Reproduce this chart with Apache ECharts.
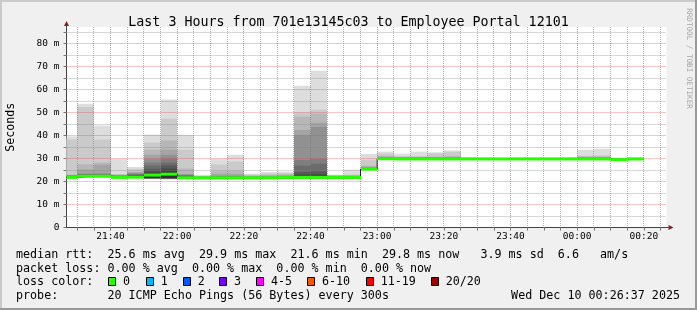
<!DOCTYPE html>
<html><head><meta charset="utf-8">
<script src="https://cdn.jsdelivr.net/npm/echarts@6/dist/echarts.min.js"></script>
<style>html,body{margin:0;padding:0;background:#f0f0f0}#c{width:697px;height:310px}</style>
</head><body><div id="c"></div>
<script>
// ---------------- data ----------------
const rangeStart = '21:26:48';
const rangeEnd = '00:26:48';
const stepEnds = ['21:30','21:35','21:40','21:45','21:50','21:55','22:00','22:05','22:10','22:15','22:20','22:25','22:30','22:35','22:40','22:45','22:50','22:55','23:00','23:05','23:10','23:15','23:20','23:25','23:30','23:35','23:40','23:45','23:50','23:55','00:00','00:05','00:10','00:15','00:20'];
const medians = [21.8,22.3,22.3,21.8,21.9,22.8,23.2,21.6,21.6,21.6,21.6,21.6,21.6,21.8,21.8,21.8,21.8,21.8,25.4,29.9,29.8,29.8,29.8,29.8,29.8,29.8,29.8,29.8,29.8,29.8,29.8,29.8,29.8,29.5,29.8];
// 20 sorted ping RTTs (ms) per step
const pings = [
 [21.2,21.4,21.5,21.5,21.6,21.6,21.7,21.7,21.8,21.8,22.0,22.2,22.3,22.4,22.5,22.6,22.8,23.0,38.3,39.6],
 [21.8,21.9,22.0,22.0,22.1,22.1,22.2,22.2,22.3,22.3,22.5,22.6,22.8,23.0,23.2,23.5,25.2,27.5,52.4,53.8],
 [21.8,21.9,22.0,22.0,22.1,22.1,22.2,22.2,22.3,22.3,22.5,22.6,22.7,22.9,23.2,23.6,27.3,28.2,38.2,44.3],
 [21.5,21.6,21.7,21.7,21.8,21.8,21.9,21.9,22.0,22.0,22.1,22.2,22.3,22.4,22.5,22.6,22.8,23.0,23.2,29.9],
 [21.4,21.5,21.6,21.7,21.8,21.9,22.0,22.0,22.1,22.1,22.4,22.6,22.8,23.0,23.3,23.6,24.0,24.3,25.5,26.3],
 [21.0,21.1,21.2,21.2,21.3,21.3,21.4,21.4,21.5,21.6,23.4,24.3,25.5,26.9,28.3,29.8,31.6,33.8,36.9,40.4],
 [20.9,21.0,21.1,21.2,21.2,21.3,21.3,21.4,21.4,21.5,24.3,25.6,27.0,28.2,30.0,31.6,33.8,37.9,47.3,55.6],
 [21.0,21.1,21.2,21.3,21.3,21.4,21.4,21.5,21.5,21.6,21.8,22.0,22.2,22.5,22.8,23.0,23.3,25.6,33.8,40.3],
 [21.0,21.1,21.2,21.2,21.3,21.3,21.4,21.4,21.5,21.5,21.6,21.7,21.8,21.8,21.9,22.0,22.1,22.3,22.5,22.8],
 [21.0,21.1,21.2,21.2,21.3,21.3,21.4,21.4,21.5,21.5,21.7,21.8,21.9,22.0,22.2,22.5,23.2,24.4,27.4,29.9],
 [21.0,21.1,21.2,21.2,21.3,21.3,21.4,21.4,21.5,21.5,21.7,21.8,21.9,22.0,22.2,22.5,23.2,24.5,28.7,31.6],
 [21.0,21.1,21.2,21.2,21.3,21.3,21.4,21.4,21.5,21.5,21.6,21.7,21.8,21.9,22.0,22.1,22.3,22.6,23.0,23.4],
 [21.0,21.1,21.2,21.2,21.3,21.3,21.4,21.4,21.5,21.5,21.6,21.7,21.8,21.9,22.0,22.2,22.5,22.9,23.5,24.1],
 [21.1,21.2,21.3,21.3,21.4,21.4,21.5,21.5,21.6,21.6,21.8,21.9,22.0,22.1,22.2,22.4,22.7,23.1,23.7,24.3],
 [21.1,21.2,21.3,21.3,21.4,21.4,21.5,21.5,21.6,21.6,22.4,23.0,24.1,26.9,29.4,40.0,42.4,48.3,50.0,61.6],
 [21.1,21.2,21.3,21.3,21.4,21.4,21.5,21.5,21.6,21.6,22.5,23.1,24.4,27.7,29.9,43.7,45.5,49.6,51.2,68.2],
 [21.1,21.2,21.3,21.3,21.4,21.4,21.5,21.5,21.6,21.6,21.7,21.8,21.9,22.0,22.1,22.2,22.4,22.6,22.8,23.0],
 [21.1,21.2,21.3,21.3,21.4,21.4,21.5,21.5,21.6,21.6,21.7,21.8,21.9,22.0,22.1,22.3,22.5,22.7,23.0,25.1],
 [25.0,25.0,25.1,25.1,25.2,25.2,25.3,25.3,25.3,25.4,25.5,25.6,25.7,25.8,25.9,26.1,26.4,26.9,29.5,32.0],
 [29.4,29.5,29.5,29.6,29.6,29.7,29.7,29.8,29.8,29.9,30.0,30.1,30.2,30.3,30.4,30.6,30.8,31.1,32.1,33.0],
 [29.4,29.5,29.5,29.6,29.6,29.7,29.7,29.8,29.8,29.8,29.9,30.0,30.1,30.2,30.3,30.4,30.5,30.7,31.0,32.1],
 [29.4,29.5,29.5,29.6,29.6,29.7,29.7,29.8,29.8,29.8,29.9,30.0,30.1,30.2,30.3,30.4,30.5,30.7,31.1,33.0],
 [29.4,29.5,29.5,29.6,29.6,29.7,29.7,29.8,29.8,29.8,29.9,30.0,30.1,30.2,30.3,30.4,30.6,30.8,32.3,32.7],
 [29.4,29.5,29.5,29.6,29.6,29.7,29.7,29.8,29.8,29.8,29.9,30.0,30.1,30.2,30.3,30.5,30.7,31.0,32.9,33.5],
 [29.4,29.5,29.5,29.6,29.6,29.7,29.7,29.8,29.8,29.8,29.9,29.9,30.0,30.0,30.1,30.1,30.2,30.3,30.3,30.4],
 [29.4,29.5,29.5,29.6,29.6,29.7,29.7,29.7,29.8,29.8,29.8,29.9,29.9,30.0,30.0,30.1,30.1,30.2,30.3,30.4],
 [29.4,29.5,29.5,29.6,29.6,29.7,29.7,29.7,29.8,29.8,29.8,29.9,29.9,30.0,30.0,30.1,30.1,30.2,30.2,30.3],
 [29.4,29.5,29.5,29.6,29.6,29.7,29.7,29.8,29.8,29.8,29.9,29.9,30.0,30.0,30.1,30.1,30.2,30.2,30.3,30.4],
 [29.4,29.5,29.5,29.6,29.6,29.7,29.7,29.7,29.8,29.8,29.8,29.9,29.9,30.0,30.0,30.0,30.1,30.2,30.3,30.4],
 [29.4,29.5,29.5,29.6,29.6,29.7,29.7,29.8,29.8,29.8,29.9,29.9,30.0,30.0,30.1,30.1,30.2,30.2,30.3,30.4],
 [29.4,29.5,29.5,29.6,29.6,29.7,29.7,29.8,29.8,29.8,29.9,29.9,30.0,30.0,30.1,30.1,30.2,30.3,30.3,30.4],
 [29.4,29.5,29.5,29.6,29.6,29.7,29.7,29.8,29.8,29.8,29.9,30.0,30.1,30.2,30.3,30.4,30.6,30.9,31.2,33.8],
 [29.4,29.5,29.5,29.6,29.6,29.7,29.7,29.8,29.8,29.8,29.9,30.0,30.1,30.2,30.3,30.4,30.6,30.9,31.4,34.2],
 [29.1,29.2,29.2,29.3,29.3,29.4,29.4,29.4,29.5,29.5,29.5,29.6,29.6,29.7,29.7,29.8,29.9,30.0,30.1,30.2],
 [29.4,29.5,29.5,29.6,29.6,29.7,29.7,29.7,29.8,29.8,29.8,29.9,29.9,30.0,30.0,30.1,30.1,30.2,30.3,30.4]
];
const xTickLabels = ['21:40','22:00','22:20','22:40','23:00','23:20','23:40','00:00','00:20'];
const yTickLabels = [0,10,20,30,40,50,60,70,80];
const titleText = 'Last 3 Hours from 701e13145c03 to Employee Portal 12101';
const statLines = [
  'median rtt:  25.6 ms avg  29.9 ms max  21.6 ms min  29.8 ms now   3.9 ms sd  6.6   am/s',
  'packet loss: 0.00 % avg  0.00 % max  0.00 % min  0.00 % now',
  'loss color:',
  'probe:       20 ICMP Echo Pings (56 Bytes) every 300s'
];
const dateText = 'Wed Dec 10 00:26:37 2025';
const lossLabels = ['0','1','2','3','4-5','6-10','11-19','20/20'];
const lossColors = ['#26ff00','#00b8ff','#0059ff','#7e00ff','#ff00ff','#ff5500','#ff0000','#a10000'];

// ---------------- helpers ----------------
const MIN = 60000, STEP = 5 * MIN;
const toTs = (hms) => { const [h, m, s = 0] = hms.split(':').map(Number); const day = h >= 12 ? 9 : 10; return Date.UTC(2025, 11, day, h, m, s); };
const pad = n => String(n).padStart(2, '0');
const fmt = v => { const d = new Date(v); return pad(d.getUTCHours()) + ':' + pad(d.getUTCMinutes()); };
const T0 = toTs(rangeStart), T1 = toTs(rangeEnd);
const stepTs = stepEnds.map(toTs);
const YMAX = 200.5 / 2.3;
const SMOKE = ['#dddddd','#cacaca','#b7b7b7','#a4a4a4','#919191','#7e7e7e','#6b6b6b','#585858','#454545','#323232'];
const GRID_C = 'rgba(130,130,130,0.62)', MGRID_C = 'rgba(228,70,70,0.62)';
const MONO = '"DejaVu Sans Mono"';

const vMarks = [];
for (let t = Math.ceil(T0 / STEP) * STEP; t < T1; t += STEP) vMarks.push([t, (new Date(t).getUTCMinutes() % 20 === 0) ? 1 : 0]);
const hMarks = [];
for (let v = 5; v <= 85; v += 5) hMarks.push([T0, v, v % 10 === 0 ? 1 : 0]);
const yTickVals = hMarks.map(d => d[1]).concat([0]);

const csRect = cs => ({ x: cs.x, y: cs.y, width: cs.width, height: cs.height });

function renderSmoke(params, api) {
  const i = params.dataIndex, t = api.value(0), p = pings[i];
  const xa = Math.round(api.coord([t - STEP, 0])[0]);
  const xb = Math.round(api.coord([t, 0])[0]);
  const children = [];
  for (let k = 0; k < 10; k++) {
    const yTop = api.coord([t, p[19 - k]])[1];
    const yBot = api.coord([t, p[k]])[1];
    const r = echarts.graphic.clipRectByRect({ x: xa, y: yTop, width: xb - xa, height: yBot - yTop }, csRect(params.coordSys));
    if (r) children.push({ type: 'rect', shape: r, style: { fill: SMOKE[k] } });
  }
  return { type: 'group', children };
}
function renderMedian(params, api) {
  const t = api.value(0), m = api.value(1);
  const xa = Math.round(api.coord([t - STEP, 0])[0]);
  const xb = Math.round(api.coord([t, 0])[0]);
  const yc = api.coord([t, m])[1];
  const r = echarts.graphic.clipRectByRect({ x: xa, y: yc - 1.5, width: xb - xa, height: 3 }, csRect(params.coordSys));
  return r ? { type: 'rect', shape: r, style: { fill: lossColors[0] } } : null;
}
function renderVGrid(params, api) {
  const cs = params.coordSys;
  const x = Math.floor(api.coord([api.value(0), 0])[0]) + 0.5;
  return { type: 'line', shape: { x1: x, y1: cs.y, x2: x, y2: cs.y + cs.height }, style: { stroke: api.value(1) ? MGRID_C : GRID_C, lineWidth: 1, lineDash: [1, 1] } };
}
function renderHGrid(params, api) {
  const cs = params.coordSys;
  const y = Math.floor(api.coord([T0, api.value(1)])[1]) + 0.5;
  return { type: 'line', shape: { x1: cs.x, y1: y, x2: cs.x + cs.width, y2: y }, style: { stroke: api.value(2) ? MGRID_C : GRID_C, lineWidth: 1, lineDash: [1, 1] } };
}

const stepLine = stepTs.map((t, i) => [t - STEP, medians[i]]);
stepLine.push([stepTs[stepTs.length - 1], medians[medians.length - 1]]);

const chart = echarts.init(document.getElementById('c'), null, { renderer: 'canvas' });
chart.setOption({
  animation: false,
  backgroundColor: '#f0f0f0',
  title: { text: titleText, left: 'center', top: 11, textStyle: { fontFamily: MONO, fontSize: 13.3, fontWeight: 'normal', color: '#000' } },
  grid: { left: 66.5, right: 30.5, top: 27, bottom: 82.5, show: true, backgroundColor: '#ffffff', borderWidth: 0 },
  xAxis: {
    type: 'value', min: T0, max: T1,
    axisLine: { show: true, lineStyle: { color: '#444', width: 1 } },
    axisTick: { show: true, customValues: vMarks.map(d => d[0]), length: 3, lineStyle: { color: '#777' } },
    axisLabel: { customValues: xTickLabels.map(toTs), formatter: v => fmt(v), fontFamily: MONO, fontSize: 9.5, color: '#000', margin: 4 },
    splitLine: { show: false }
  },
  yAxis: {
    type: 'value', min: 0, max: YMAX,
    axisLine: { show: true, lineStyle: { color: '#444', width: 1 } },
    axisTick: { show: true, customValues: yTickVals, length: 3, lineStyle: { color: '#777' } },
    axisLabel: { customValues: yTickLabels, formatter: v => v === 0 ? '0' : v + ' m', fontFamily: MONO, fontSize: 9.5, color: '#000', margin: 7 },
    splitLine: { show: false }
  },
  series: [
    { type: 'custom', name: 'smoke', z: 2, silent: true, renderItem: renderSmoke, encode: { x: 0, y: 1 }, data: stepTs.map((t, i) => [t, medians[i]]) },
    { type: 'custom', name: 'vgrid', z: 3, silent: true, renderItem: renderVGrid, encode: { x: 0 }, data: vMarks },
    { type: 'custom', name: 'hgrid', z: 3, silent: true, renderItem: renderHGrid, encode: { x: 0, y: 1 }, data: hMarks },
    { type: 'line', name: 'median-step', z: 4, silent: true, step: 'end', symbol: 'none', data: stepLine, lineStyle: { color: '#202020', width: 1 } },
    { type: 'custom', name: 'median', z: 5, silent: true, renderItem: renderMedian, encode: { x: 0, y: 1 }, data: stepTs.map((t, i) => [t, medians[i]]) }
  ]
});

// ---------------- decorations (legend text, frame, arrows) ----------------
const pO = chart.convertToPixel({ gridIndex: 0 }, [T1, 0]);
const pY = chart.convertToPixel({ gridIndex: 0 }, [T0, YMAX]);
const rowY = [255, 268.7, 282.3, 296];
const txt = (text, x, y, opts = {}) => ({ type: 'text', x, y, silent: true, style: Object.assign({ text, font: '11.7px ' + MONO, fill: '#000', align: 'left', verticalAlign: 'middle' }, opts) });
const g = [];
statLines.forEach((s, i) => g.push(txt(s, 16, rowY[i])));
g.push(txt(dateText, 680, rowY[3], { align: 'right' }));
const boxX = [108, 145.7, 182.7, 219, 256, 307, 365.7, 430.7];
lossLabels.forEach((l, i) => {
  g.push({ type: 'rect', silent: true, shape: { x: Math.round(boxX[i]) + 0.5, y: 277.5, width: 7, height: 8 }, style: { fill: lossColors[i], stroke: '#000', lineWidth: 1 } });
  g.push(txt(l, boxX[i] + 15, rowY[2]));
});
g.push(txt('Seconds', 11, (pY[1] + pO[1]) / 2, { font: '11.6px ' + MONO, align: 'center' }));
g[g.length - 1].rotation = Math.PI / 2;
const wm = txt('RRDTOOL / TOBI OETIKER', 688.5, 58.5, { font: '7.6px ' + MONO, fill: '#a8a8a8', align: 'center' });
wm.rotation = -Math.PI / 2;
g.push(wm);
// frame
g.push({ type: 'rect', silent: true, shape: { x: 0, y: 0, width: 697, height: 2 }, style: { fill: '#cbcbcb' } });
g.push({ type: 'rect', silent: true, shape: { x: 0, y: 0, width: 2, height: 310 }, style: { fill: '#cbcbcb' } });
g.push({ type: 'rect', silent: true, shape: { x: 0, y: 308, width: 697, height: 2 }, style: { fill: '#999999' } });
g.push({ type: 'rect', silent: true, shape: { x: 695, y: 0, width: 2, height: 310 }, style: { fill: '#999999' } });
// axis arrows
const ax = pO[0], ay = pO[1], yx = pY[0], yy = pY[1];
g.push({ type: 'line', silent: true, z: 100, shape: { x1: ax, y1: ay, x2: ax + 2, y2: ay }, style: { stroke: '#444', lineWidth: 1 } });
g.push({ type: 'polygon', silent: true, z: 100, shape: { points: [[ax + 2, ay - 2.5], [ax + 7, ay], [ax + 2, ay + 2.5]] }, style: { fill: '#7f1f1f' } });
g.push({ type: 'line', silent: true, z: 100, shape: { x1: yx, y1: yy, x2: yx, y2: yy - 1 }, style: { stroke: '#444', lineWidth: 1 } });
g.push({ type: 'polygon', silent: true, z: 100, shape: { points: [[yx - 2.5, yy - 1], [yx, yy - 6], [yx + 2.5, yy - 1]] }, style: { fill: '#7f1f1f' } });
chart.setOption({ graphic: g });
</script></body></html>
